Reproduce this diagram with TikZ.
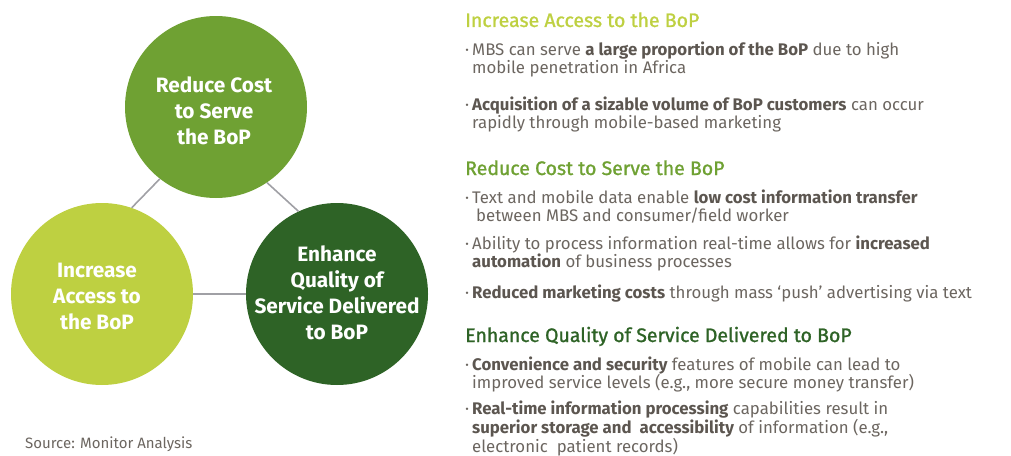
\documentclass[tikz,border=0pt]{standalone}
\usepackage{fontspec}
\setmainfont{Fira Sans}
\newfontfamily\headfont{Fira Sans}[FakeBold=1.2]
\definecolor{lgreen}{RGB}{190,208,65}
\definecolor{mgreen}{RGB}{111,161,51}
\definecolor{dgreen}{RGB}{46,99,38}
\definecolor{bodygray}{RGB}{108,102,96}
\definecolor{boldgray}{RGB}{92,86,80}
\definecolor{linegray}{RGB}{160,160,165}
\newcommand\hb[1]{\textcolor{boldgray}{\bfseries #1}}
\newcommand\bdot{\llap{\textperiodcentered\hspace{3pt}}}
\begin{document}
\begin{tikzpicture}[x=1pt,y=-1pt,
  circ/.style={circle,minimum size=182pt,inner sep=0pt},
  ctext/.style={text=white,inner sep=0pt,align=center,
    font=\fontsize{20.8}{26}\selectfont\bfseries},
  link/.style={draw=linegray,line width=1.6pt},
  head/.style={anchor=base west,inner sep=0pt,font=\fontsize{19.5}{24}\headfont},
  bul/.style={anchor=base west,inner sep=0pt,align=left,text=bodygray,
    font=\fontsize{16.8}{18.5}\selectfont},
  src/.style={anchor=base west,inner sep=0pt,text=bodygray,font=\fontsize{15}{18}\selectfont}]
\useasboundingbox (0,0) rectangle (1011,455);
% circles
\node[circ,fill=mgreen] (cost) at (216,107) {};
\node[circ,fill=lgreen] (access) at (102,294) {};
\node[circ,fill=dgreen] (quality) at (337,294) {};
\node[ctext] (costtext) at (214,111) {Reduce Cost\\to Serve\\the BoP};
\node[ctext] (accesstext) at (97,296) {Increase\\Access to\\the BoP};
\node[ctext] (qualitytext) at (337,293) {Enhance\\Quality of\\Service Delivered\\to BoP};
\draw[link] (cost.232) -- (access.71);
\draw[link] (cost.304) -- (quality.115);
\draw[link] (access.east) -- (quality.west);
\node[src] (source) at (25,448) {Source: Monitor Analysis};
% right text (anchored at the baseline of the last line)
\node[head,text=lgreen] (h1) at (465,27) {Increase Access to the BoP};
\node[bul] (b1) at (472,73.5) {\bdot MBS can serve \hb{a large proportion of the BoP} due to high\\mobile penetration in Africa};
\node[bul] (b2) at (472,128.5) {\bdot\hb{Acquisition of a sizable volume of BoP customers} can occur\\rapidly through mobile-based marketing};
\node[head,text=mgreen] (h2) at (465,175) {Reduce Cost to Serve the BoP};
\node[bul] (b3) at (472,221.5) {\bdot Text and mobile data enable \hb{low cost information transfer}\\\hspace{4pt}between MBS and consumer/field worker};
\node[bul] (b4) at (472,267.5) {\bdot Ability to process information real-time allows for \hb{increased}\\\hb{automation} of business processes};
\node[bul] (b5) at (472,298) {\bdot\hb{Reduced marketing costs} through mass `push' advertising via text};
\node[head,text=dgreen] (h3) at (465,342) {Enhance Quality of Service Delivered to BoP};
\node[bul] (b6) at (472,388.5) {\bdot\hb{Convenience and security} features of mobile can lead to\\improved service levels (e.g., more secure money transfer)};
\node[bul,font=\fontsize{16.8}{17}\selectfont] (b7) at (472,452) {\bdot\hb{Real-time information processing} capabilities result in\\\hb{superior storage and\ \ accessibility} of information (e.g.,\\electronic\ \ patient records)};
\end{tikzpicture}
\end{document}
